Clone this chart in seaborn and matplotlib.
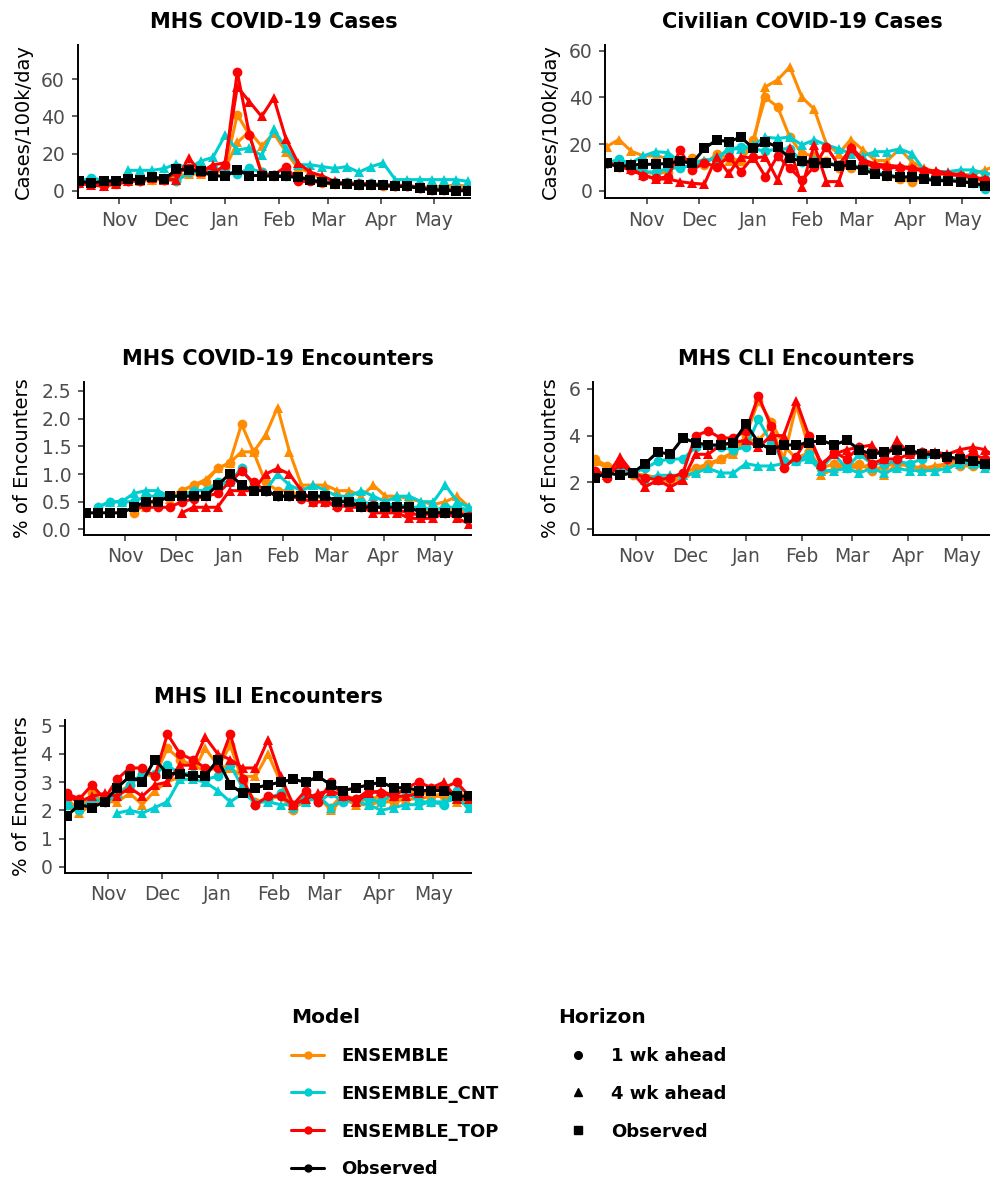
import numpy as np
import pandas as pd
import matplotlib
matplotlib.use("Agg")
import matplotlib.pyplot as plt
import matplotlib.dates as mdates
from matplotlib.ticker import FormatStrFormatter
from matplotlib.lines import Line2D
import seaborn as sns

sns.set_style("ticks")
plt.rcParams["font.family"] = ["DejaVu Sans"]
plt.rcParams["text.color"] = "black"
plt.rcParams["axes.labelcolor"] = "black"

W, H = 990, 1178
na = np.nan

# ---------------------------------------------------------------- data
weeks = pd.date_range("2021-10-09", periods=33, freq="7D")
models = ["ENSEMBLE", "ENSEMBLE_CNT", "ENSEMBLE_TOP"]
horizons = ["1 wk ahead", "4 wk ahead"]

# MHS COVID-19 cases (cases per 100k per day)
mhs_cases_obs = [5.0, 4.3, 5.0, 5.4, 6.5, 5.6, 7.5, 6.3, 11.5, 11.2, 10.4, 8.2, 7.7, 11.2, 8.2, 8.2, 7.7,
                 7.7, 7.3, 5.9, 4.5, 3.8, 3.8, 3.2, 3.2, 2.9, 2.3, 2.3, 1.4, 0.5, 0.2, 0.0, 0.0]
mhs_cases_ens_1 = [4.5, 4.0, 3.5, 3.5, 5.0, 5.0, 6.0, 6.0, 5.5, 9.5, 10.0, 9.0, 12.0, 41.0, 30.0, 10.0, 8.0,
                   8.5, 7.5, 6.5, 4.0, 3.5, 3.5, 3.0, 3.0, 2.5, 2.5, 2.5, 1.5, 1.0, 1.0, 1.5, 1.5]
mhs_cases_ens_4 = [4.0, 4.0, 4.0, 4.0, 5.0, 5.5, 6.0, 6.0, 8.0, 9.0, 9.0, 9.0, 12.0, 26.0, 32.0, 24.0, 31.0,
                   21.0, 12.0, 10.0, 6.0, 4.0, 4.0, 3.5, 3.0, 3.0, 2.5, 2.5, 2.0, 2.0, 2.5, 3.0, 2.5]
mhs_cases_cnt_1 = [5.0, 7.0, 5.5, 5.5, 6.0, 6.0, 7.0, 7.0, 5.0, 10.0, 10.0, 12.5, 10.0, 9.0, 12.0, 10.0, 8.5,
                   8.0, 7.0, 6.0, 5.0, 4.5, 4.5, 4.0, 4.0, 3.5, 3.0, 3.0, 2.0, 1.5, 1.5, 1.0, 1.0]
mhs_cases_cnt_4 = [na, na, na, na, 11.0, 11.0, 11.0, 12.0, 14.5, 12.0, 16.0, 18.0, 30.0, 22.0, 23.0, 19.0, 33.0,
                   23.0, 14.0, 14.0, 13.0, 12.0, 13.0, 10.0, 13.0, 15.0, 6.0, 6.0, 6.0, 6.0, 6.0, 6.0, 5.0]
mhs_cases_top_1 = [4.0, 3.5, 3.0, 4.0, 5.0, 5.5, 7.0, 6.0, 10.0, 12.0, 11.0, 9.0, 14.0, 64.0, 30.0, 9.0, 8.5,
                   13.0, 5.0, 5.0, 4.5, 4.0, 4.0, 3.5, 3.5, 3.0, 2.5, 2.5, 1.5, 0.5, 0.5, 0.5, 0.5]
mhs_cases_top_4 = [4.0, 3.0, 2.5, 3.5, 5.0, 6.0, 7.0, 6.0, 6.0, 17.5, 10.0, 14.0, 15.0, 56.0, 48.0, 40.0, 50.0,
                   28.0, 15.0, 10.0, 8.0, 5.0, 4.0, 4.0, 3.5, 3.0, 3.0, 2.5, 2.0, 1.0, 0.5, 0.5, 0.5]

# Civilian COVID-19 cases (cases per 100k per day)
civ_cases_obs = [11.8, 10.4, 11.1, 11.4, 11.4, 11.8, 12.8, 11.8, 18.2, 21.8, 21.1, 23.0, 18.2, 21.1, 18.7, 14.0,
                 12.8, 12.1, 11.8, 10.7, 11.1, 9.0, 7.3, 6.6, 5.8, 6.1, 5.1, 4.4, 4.4, 4.0, 3.3, 2.3, 2.0]
civ_cases_ens_1 = [12.0, 13.0, 9.5, 8.0, 7.5, 8.0, 12.0, 14.0, 11.0, 16.0, 14.0, 13.0, 22.0, 40.0, 36.0, 23.0,
                   16.0, 15.0, 13.0, 10.0, 10.0, 10.5, 8.0, 6.5, 5.0, 4.0, 5.5, 5.0, 5.0, 4.5, 4.0, 3.0, 2.5]
civ_cases_ens_4 = [19.0, 22.0, 17.0, 15.0, 15.0, 14.0, 13.0, 12.5, 13.0, 14.0, 13.0, 13.0, 20.0, 44.5, 47.5, 53.0,
                   40.0, 35.0, 20.0, 16.0, 22.0, 17.5, 13.0, 13.0, 18.0, 12.5, 9.7, 8.3, 7.5, 7.0, 7.0, 9.0, 11.0]
civ_cases_cnt_1 = [12.0, 13.5, 11.0, 8.3, 8.0, 9.7, 10.0, 11.0, 12.5, 14.0, 17.5, 19.0, 18.0, 17.0, 18.0, 18.0,
                   12.5, 13.0, 12.0, 11.0, 11.0, 10.0, 8.0, 7.0, 6.0, 6.0, 5.5, 5.0, 5.0, 4.5, 3.5, 0.7, 2.0]
civ_cases_cnt_4 = [na, 13.0, 12.0, 15.0, 16.8, 16.4, 12.5, 12.0, 13.0, 14.0, 18.0, 18.0, 19.7, 23.0, 22.5, 23.0,
                   19.7, 21.8, 19.7, 18.0, 16.0, 15.0, 16.8, 16.8, 18.0, 16.0, 9.0, 8.3, 8.3, 9.0, 9.0, 7.5, 7.0]
civ_cases_top_1 = [12.0, 10.4, 9.0, 6.6, 5.4, 6.0, 17.5, 9.0, 12.0, 10.4, 14.7, 8.3, 14.7, 6.1, 15.0, 9.7,
                   4.7, 10.4, 19.0, 11.0, 18.2, 11.8, 10.4, 10.0, 10.0, 9.5, 8.5, 7.5, 7.0, 6.5, 5.5, 4.5, 4.0]
civ_cases_top_4 = [12.0, 11.0, 9.3, 6.8, 5.1, 5.1, 4.0, 3.3, 2.9, 14.7, 7.5, 14.7, 14.0, 14.7, 4.7, 18.2,
                   1.9, 19.7, 4.0, 4.0, 19.0, 13.3, 11.5, 11.0, 10.5, 10.0, 9.0, 8.5, 7.5, 7.0, 6.0, 5.0, 4.5]

# MHS COVID-19 encounters (% of encounters)
covid_enc_obs = [0.3, 0.3, 0.3, 0.3, 0.4, 0.5, 0.5, 0.6, 0.6, 0.6, 0.6, 0.8, 1.0, 0.8, 0.7, 0.7, 0.6,
                 0.6, 0.6, 0.6, 0.6, 0.5, 0.5, 0.4, 0.4, 0.4, 0.4, 0.4, 0.3, 0.3, 0.3, 0.3, 0.2]
covid_enc_ens_1 = [na, na, na, na, 0.3, 0.45, 0.5, 0.6, 0.7, 0.8, 0.85, 1.1, 1.2, 1.9, 1.4, 0.85, 0.7,
                   0.7, 0.6, 0.6, 0.55, 0.55, 0.5, 0.45, 0.45, 0.4, 0.45, 0.4, 0.35, 0.3, 0.35, 0.35, 0.3]
covid_enc_ens_4 = [na, na, na, na, na, 0.4, 0.6, 0.55, 0.7, 0.8, 0.9, 1.1, 1.2, 1.4, 1.4, 1.7, 2.2,
                   1.4, 0.8, 0.8, 0.8, 0.7, 0.7, 0.6, 0.8, 0.6, 0.6, 0.55, 0.5, 0.45, 0.5, 0.6, 0.4]
covid_enc_cnt_1 = [na, 0.4, 0.5, 0.5, 0.5, 0.6, 0.6, 0.6, 0.6, 0.7, 0.7, 0.85, 0.85, 1.1, 0.8, 0.7, 0.6,
                   0.6, 0.6, 0.6, 0.6, 0.5, 0.55, 0.5, 0.45, 0.45, 0.45, 0.4, 0.4, 0.35, 0.4, 0.4, 0.35]
covid_enc_cnt_4 = [na, 0.4, 0.5, 0.5, 0.65, 0.7, 0.7, 0.6, 0.6, 0.7, 0.7, 0.8, 0.85, 1.1, 0.8, 0.7, 1.0,
                   0.8, 0.7, 0.8, 0.7, 0.6, 0.6, 0.7, 0.6, 0.5, 0.6, 0.6, 0.5, 0.5, 0.8, 0.5, 0.4]
covid_enc_top_1 = [na, na, na, na, 0.4, 0.4, 0.4, 0.4, 0.5, 0.55, 0.6, 0.65, 0.85, 1.05, 0.85, 0.7, 0.6,
                   0.6, 0.55, 0.5, 0.5, 0.4, 0.45, 0.4, 0.45, 0.35, 0.35, 0.3, 0.25, 0.3, 0.3, 0.3, 0.25]
covid_enc_top_4 = [na, na, na, na, na, na, na, na, 0.3, 0.4, 0.4, 0.4, 0.7, 0.7, 0.7, 1.0, 1.1,
                   1.0, 0.7, 0.5, 0.5, 0.45, 0.4, 0.4, 0.3, 0.3, 0.3, 0.2, 0.2, 0.2, 0.3, 0.2, 0.1]

# MHS CLI encounters (% of encounters)
cli_enc_obs = [2.2, 2.4, 2.3, 2.4, 2.8, 3.3, 3.2, 3.9, 3.7, 3.6, 3.6, 3.7, 4.5, 3.7, 3.4, 3.6, 3.6,
               3.7, 3.8, 3.6, 3.8, 3.4, 3.2, 3.3, 3.4, 3.4, 3.2, 3.2, 3.1, 3.0, 2.9, 2.8, 2.8]
cli_enc_ens_1 = [3.0, 2.7, 2.6, 2.3, 2.2, 2.2, 2.0, 2.4, 2.6, 2.8, 3.0, 3.3, 4.0, 5.5, 4.6, 3.6, 3.0,
                 3.3, 2.6, 2.8, 2.7, 2.8, 2.5, 2.7, 2.8, 2.7, 2.6, 2.6, 2.8, 2.7, 2.7, 2.8, 2.7]
cli_enc_ens_4 = [2.9, 2.6, 2.5, 2.4, 2.3, 2.2, 2.1, 2.1, 2.5, 2.7, 3.0, 3.2, 3.8, 3.8, 4.4, 3.0, 5.3,
                 3.5, 2.3, 2.6, 2.7, 2.6, 2.8, 2.3, 2.8, 2.7, 2.6, 2.7, 2.8, 2.9, 3.0, 2.9, 2.8]
cli_enc_cnt_1 = [2.3, 2.4, 2.6, 2.4, 2.6, 2.9, 3.0, 3.0, 3.5, 3.6, 3.5, 3.4, 3.5, 4.7, 3.7, 2.9, 2.9,
                 3.2, 2.6, 3.2, 2.6, 3.2, 2.8, 2.8, 2.9, 2.8, 3.0, 3.2, 3.0, 3.0, 2.9, 2.7, 2.6]
cli_enc_cnt_4 = [na, na, na, 2.4, 2.1, 2.3, 2.3, 2.3, 2.4, 2.6, 2.4, 2.4, 2.8, 2.7, 2.7, 2.8, 2.9,
                 3.0, 2.5, 2.5, 2.6, 2.4, 2.6, 2.4, 2.6, 2.5, 2.5, 2.5, 2.6, 2.8, 2.8, 2.6, 2.5]
cli_enc_top_1 = [2.5, 2.2, 2.8, 2.4, 2.2, 2.1, 2.2, 2.4, 4.0, 4.2, 3.9, 3.9, 4.2, 5.7, 4.4, 2.6, 3.1,
                 4.0, 2.7, 3.3, 3.0, 3.5, 2.8, 3.0, 3.0, 3.2, 3.3, 3.2, 3.0, 3.0, 3.2, 3.0, 3.0]
cli_enc_top_4 = [2.5, 2.3, 3.1, 2.4, 1.8, 2.1, 1.8, 2.1, 3.2, 3.2, 3.6, 3.7, 3.8, 3.5, 4.0, 4.0, 5.5,
                 4.0, 2.8, 3.2, 3.4, 3.5, 3.6, 3.0, 3.8, 3.2, 3.3, 3.3, 3.2, 3.4, 3.5, 3.4, 3.0]

# MHS ILI encounters (% of encounters)
ili_enc_obs = [1.8, 2.2, 2.1, 2.3, 2.8, 3.2, 3.0, 3.8, 3.3, 3.3, 3.2, 3.2, 3.8, 2.9, 2.6, 2.8, 2.9,
               3.0, 3.1, 3.0, 3.2, 2.9, 2.7, 2.8, 2.9, 3.0, 2.8, 2.8, 2.7, 2.7, 2.7, 2.5, 2.5]
ili_enc_ens_1 = [2.4, 2.0, 2.6, 2.3, 2.6, 2.9, 3.3, 3.2, 4.2, 3.8, 3.6, 3.4, 3.5, 4.3, 3.0, 2.3, 2.4,
                 2.5, 2.0, 2.5, 2.4, 2.1, 2.6, 2.3, 2.4, 2.5, 2.3, 2.6, 2.7, 2.5, 2.5, 2.7, 2.4]
ili_enc_ens_4 = [2.2, 1.9, 2.2, 2.3, 2.3, 2.6, 2.2, 2.7, 3.0, 3.2, 3.3, 4.2, 3.6, 3.5, 3.2, 3.2, 4.0,
                 3.0, 2.1, 2.3, 2.5, 2.0, 2.4, 2.2, 2.2, 2.3, 2.3, 2.4, 2.4, 2.5, 2.6, 2.3, 2.3]
ili_enc_cnt_1 = [2.2, 2.0, 2.4, 2.3, 2.5, 2.9, 3.3, 3.3, 3.6, 3.3, 3.3, 3.1, 3.2, 3.6, 2.8, 2.2, 2.4,
                 2.6, 2.1, 2.5, 2.3, 2.6, 2.3, 2.4, 2.4, 2.3, 2.6, 2.7, 2.3, 2.3, 2.2, 2.7, 2.2]
ili_enc_cnt_4 = [na, na, na, na, 1.9, 2.0, 1.9, 2.1, 2.3, 3.1, 3.1, 3.0, 2.7, 2.3, 2.6, 2.3, 2.3,
                 2.2, 2.2, 2.3, 2.5, 2.1, 2.4, 2.3, 2.2, 2.0, 2.1, 2.2, 2.2, 2.3, 2.3, 2.4, 2.1]
ili_enc_top_1 = [2.6, 2.4, 2.9, 2.4, 3.1, 3.5, 3.5, 3.2, 4.7, 4.0, 3.8, 3.5, 3.5, 4.7, 3.1, 2.2, 2.5,
                 2.5, 2.2, 2.7, 2.3, 3.0, 2.5, 2.4, 2.7, 2.6, 2.5, 2.8, 3.0, 2.8, 2.8, 3.0, 2.5]
ili_enc_top_4 = [2.5, 2.3, 2.5, 2.6, 2.5, 2.8, 2.5, 2.9, 3.0, 3.6, 3.6, 4.6, 4.0, 3.8, 3.5, 3.5, 4.5,
                 3.2, 2.2, 2.4, 2.6, 2.7, 2.5, 2.3, 2.6, 2.7, 2.5, 2.5, 2.6, 2.8, 3.0, 2.4, 2.4]

panel_titles = ["MHS COVID-19 Cases", "Civilian COVID-19 Cases", "MHS COVID-19 Encounters",
                "MHS CLI Encounters", "MHS ILI Encounters"]
panel_ylabels = ["Cases/100k/day", "Cases/100k/day", "% of Encounters", "% of Encounters", "% of Encounters"]
panel_yticks = [[0, 20, 40, 60], [0, 20, 40, 60], [0.0, 0.5, 1.0, 1.5, 2.0, 2.5], [0, 2, 4, 6], [0, 1, 2, 3, 4, 5]]

panel_series = [
    (mhs_cases_obs, [(mhs_cases_ens_1, mhs_cases_ens_4), (mhs_cases_cnt_1, mhs_cases_cnt_4), (mhs_cases_top_1, mhs_cases_top_4)]),
    (civ_cases_obs, [(civ_cases_ens_1, civ_cases_ens_4), (civ_cases_cnt_1, civ_cases_cnt_4), (civ_cases_top_1, civ_cases_top_4)]),
    (covid_enc_obs, [(covid_enc_ens_1, covid_enc_ens_4), (covid_enc_cnt_1, covid_enc_cnt_4), (covid_enc_top_1, covid_enc_top_4)]),
    (cli_enc_obs, [(cli_enc_ens_1, cli_enc_ens_4), (cli_enc_cnt_1, cli_enc_cnt_4), (cli_enc_top_1, cli_enc_top_4)]),
    (ili_enc_obs, [(ili_enc_ens_1, ili_enc_ens_4), (ili_enc_cnt_1, ili_enc_cnt_4), (ili_enc_top_1, ili_enc_top_4)]),
]

# ---------------------------------------------------------------- layout / style
model_colors = {"ENSEMBLE": "#FF8C00", "ENSEMBLE_CNT": "#00CED1", "ENSEMBLE_TOP": "#FF0000"}
horizon_markers = {"1 wk ahead": "o", "4 wk ahead": "^"}
LW = 2.2

# panel boxes in pixels: left, top, right, bottom
panel_boxes = [(77.5, 45, 470, 198), (605, 45, 999, 198), (84, 382, 471, 535),
               (593, 382, 999.5, 535), (65, 720, 471, 873)]
panel_ylims = [(-3.9, 78.5), (-3.0, 62.4), (-0.10, 2.66), (-0.26, 6.3), (-0.22, 5.2)]
ylabel_x = [23, 550, 23, 550, 22]
yfmt = ["%d", "%d", "%.1f", "%d", "%d"]


def box_to_rect(box):
    l, t, r, b = box
    return [l / W, 1 - b / H, (r - l) / W, (b - t) / H]


def long_frame(groups):
    rows = []
    for model, (one_wk, four_wk) in zip(models, groups):
        for hz, vals in zip(horizons, (one_wk, four_wk)):
            rows.append(pd.DataFrame({"date": weeks, "value": vals, "model": model, "horizon": hz}))
    return pd.concat(rows, ignore_index=True).dropna(subset=["value"])


fig = plt.figure(figsize=(W / 100, H / 100), dpi=100)

for k in range(5):
    obs_vals, groups = panel_series[k]
    ax = fig.add_axes(box_to_rect(panel_boxes[k]))
    fc = long_frame(groups)
    sns.lineplot(data=fc, x="date", y="value", hue="model", style="horizon",
                 hue_order=models, style_order=horizons, palette=model_colors,
                 markers=horizon_markers, dashes=False, estimator=None, sort=True,
                 linewidth=LW, markersize=7, markeredgewidth=0, legend=False, ax=ax)
    obs = pd.DataFrame({"date": weeks, "value": obs_vals})
    sns.lineplot(data=obs, x="date", y="value", color="black", marker="s", markersize=6.5,
                 markeredgewidth=0, linewidth=LW, estimator=None, legend=False, ax=ax)

    ax.set_xlim(weeks[0] - pd.Timedelta(days=1), weeks[-1] + pd.Timedelta(days=1))
    ax.xaxis.set_major_locator(mdates.MonthLocator())
    ax.xaxis.set_major_formatter(mdates.DateFormatter("%b"))
    ax.set_ylim(*panel_ylims[k])
    ax.set_yticks(panel_yticks[k])
    ax.yaxis.set_major_formatter(FormatStrFormatter(yfmt[k]))
    ax.tick_params(axis="both", length=4, width=1.1, color="#333333", labelcolor="#4D4D4D",
                   labelsize=13.5, pad=5)
    for s in ("top", "right"):
        ax.spines[s].set_visible(False)
    for s in ("left", "bottom"):
        ax.spines[s].set_linewidth(1.4)
        ax.spines[s].set_color("black")
    ax.set_xlabel("")
    ax.set_ylabel(panel_ylabels[k], fontsize=14, color="black", va="center", ha="center")
    l, t, r, b = panel_boxes[k]
    ax.yaxis.set_label_coords(ylabel_x[k] / W, 1 - (t + b) / 2 / H, transform=fig.transFigure)
    ax.set_title(panel_titles[k], fontsize=15, fontweight="bold", color="black", pad=12.3)

# ---------------------------------------------------------------- legends
model_handles = [Line2D([], [], color=model_colors[m], lw=2.2, marker="o", ms=5) for m in models]
model_handles.append(Line2D([], [], color="black", lw=2.2, marker="o", ms=5))
fig.legend(model_handles, models + ["Observed"], title="Model", loc="upper left",
           bbox_to_anchor=(291 / W, 1 - 1008 / H), frameon=False, alignment="left",
           prop={"weight": "bold", "size": 13},
           title_fontproperties={"weight": "bold", "size": 14.5},
           handlelength=1.85, handletextpad=0.95, labelspacing=1.1,
           borderpad=0, borderaxespad=0, labelcolor="black")

horizon_handles = [Line2D([], [], color="black", ls="none", marker=m, ms=5.5) for m in ("o", "^", "s")]
fig.legend(horizon_handles, ["1 wk ahead", "4 wk ahead", "Observed"], title="Horizon", loc="upper left",
           bbox_to_anchor=(558 / W, 1 - 1008 / H), frameon=False, alignment="left",
           prop={"weight": "bold", "size": 13},
           title_fontproperties={"weight": "bold", "size": 14.5},
           handlelength=2.2, handletextpad=0.75, labelspacing=1.1,
           borderpad=0, borderaxespad=0, labelcolor="black")

fig.savefig("out.png", dpi=100)
